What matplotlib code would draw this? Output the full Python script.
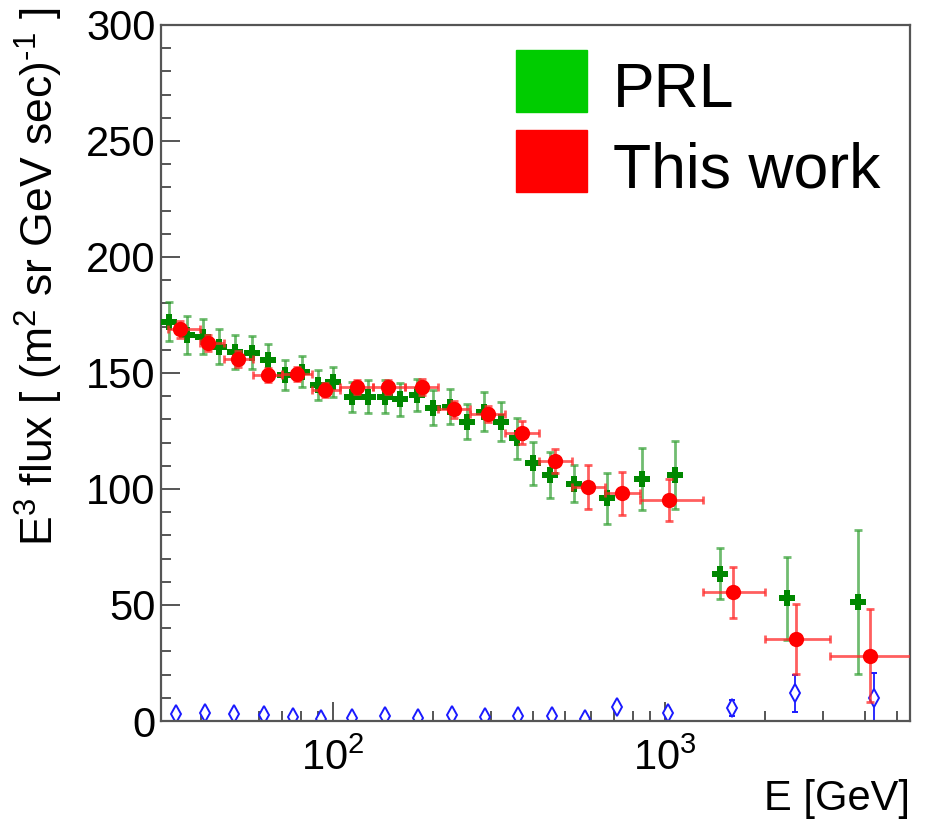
import numpy as np
import matplotlib.pyplot as plt
from matplotlib.patches import Rectangle
from matplotlib.ticker import LogLocator, NullFormatter, MultipleLocator

# PRL flux points (E^3 weighted)
prl_e = [32.0, 36.3, 40.5, 45.4, 50.7, 57.1, 63.8, 71.7, 80.5, 90.3, 100.0,
         113.8, 127.7, 143.4, 159.3, 179.5, 200.5, 225.0, 252.7, 283.9, 319.6,
         357.0, 401.0, 448.7, 532.0, 667.0, 851.0, 1072.0, 1466.0, 2335.0, 3818.0]
prl_flux = [172.1, 166.4, 165.6, 161.3, 159.2, 158.8, 155.6, 149.1, 150.6, 144.8, 146.3,
            139.8, 139.8, 139.8, 138.7, 140.5, 135.1, 135.5, 129.0, 133.3, 129.0,
            121.8, 111.0, 106.0, 102.2, 96.0, 104.2, 106.0, 63.4, 52.9, 51.4]
prl_err = [8.5, 8.0, 7.5, 7.5, 7.3, 7.2, 6.8, 6.3, 6.8, 6.3, 6.5,
           6.5, 7.0, 7.0, 7.2, 7.0, 7.5, 7.5, 7.5, 8.3, 8.3,
           9.0, 9.3, 10.0, 8.0, 11.0, 13.3, 14.7, 11.0, 17.8, 31.0]

# this work: bin centres, bin edges, flux and error
work_e = [34.6, 42.1, 51.6, 63.6, 77.8, 94.6, 117.9, 146.8, 184.9, 231.9,
          293.8, 369.6, 466.9, 588.0, 741.0, 1031.0, 1600.0, 2478.0, 4131.0]
work_e_lo = [31.7, 39.6, 46.8, 57.5, 70.0, 86.3, 105.0, 132.0, 165.0, 207.6,
             258.6, 329.0, 418.0, 524.0, 659.0, 841.0, 1300.0, 2000.0, 3140.0]
work_e_hi = [39.6, 46.8, 57.5, 70.0, 86.3, 105.0, 132.0, 165.0, 207.6, 258.6,
             329.0, 418.0, 524.0, 659.0, 841.0, 1300.0, 2000.0, 3140.0, 6300.0]
work_flux = [168.8, 162.8, 155.9, 149.1, 149.6, 142.7, 143.8, 143.8, 144.1, 134.3,
             132.2, 124.3, 112.1, 100.7, 98.1, 95.3, 55.5, 35.3, 28.1]
work_err = [3.5, 3.5, 3.5, 3.0, 3.0, 3.0, 3.0, 3.0, 3.5, 3.5,
            3.5, 5.0, 5.0, 9.5, 9.4, 9.0, 11.0, 15.0, 20.0]

# difference points near zero
diff_e = [33.7, 41.1, 50.3, 61.7, 75.7, 91.8, 113.8, 143.4, 180.6, 228.0,
          287.0, 361.0, 456.0, 574.0, 718.0, 1024.0, 1589.0, 2466.0, 4268.0]
diff_flux = [3.0, 3.6, 3.0, 2.6, 1.6, 0.7, 1.1, 2.2, 1.1, 2.6,
             1.9, 2.2, 2.2, 0.7, 5.9, 3.6, 5.5, 11.9, 9.8]
diff_err = [1.0, 1.0, 1.0, 1.0, 1.0, 1.0, 1.0, 1.0, 1.0, 1.0,
            1.0, 1.0, 1.0, 1.0, 1.5, 2.0, 3.5, 8.0, 11.0]

plt.rcParams['font.family'] = ['Liberation Sans', 'DejaVu Sans']
plt.rcParams['mathtext.default'] = 'regular'

fig = plt.figure(figsize=(9.27, 8.22), dpi=100)
W, H = 927.0, 822.0
ax = fig.add_axes([161 / W, 1 - 721 / H, (910 - 161) / W, (721 - 25) / H])

work_e = np.array(work_e)
xerr = [work_e - np.array(work_e_lo), np.array(work_e_hi) - work_e]

ax.errorbar(diff_e, diff_flux, yerr=diff_err, fmt='d', color='#1a1aff', mfc='white',
            mec='#1a1aff', mew=1.4, ms=9, elinewidth=1.3, capsize=2.5, zorder=2)
ax.errorbar(prl_e, prl_flux, yerr=prl_err, fmt='none', ecolor='#33a033', alpha=0.7,
            elinewidth=2, capsize=3, capthick=2, zorder=3)
ax.plot(prl_e, prl_flux, 'P', color='#008800', ms=11, mew=0, zorder=4)
ax.errorbar(work_e, work_flux, xerr=xerr, yerr=work_err, fmt='none', ecolor='#ff2a2a',
            alpha=0.75, elinewidth=2, capsize=3, capthick=2, zorder=5)
ax.plot(work_e, work_flux, 'o', color='#ff0000', ms=11, mew=0, zorder=6)

ax.set_xscale('log')
ax.set_xlim(30.3, 5470)
ax.set_ylim(0, 300)
ax.xaxis.set_major_locator(LogLocator(base=10))
ax.xaxis.set_minor_locator(LogLocator(base=10, subs=np.arange(2, 10)))
ax.xaxis.set_minor_formatter(NullFormatter())
ax.yaxis.set_major_locator(MultipleLocator(50))
ax.yaxis.set_minor_locator(MultipleLocator(10))

for s in ax.spines.values():
    s.set_color('#555555')
    s.set_linewidth(1.6)
ax.tick_params(which='both', direction='in', top=False, right=False,
               colors='#555555', labelcolor='black', width=1.4, labelsize=30)
ax.tick_params(which='major', length=14)
ax.tick_params(which='minor', length=7)
ax.tick_params(axis='y', pad=4)
ax.tick_params(axis='x', pad=13)

ax.set_xlabel('E [GeV]', fontsize=30, loc='right')
ax.xaxis.set_label_coords(1.0, -0.083)
ax.set_ylabel('E$^{3}$ flux [ (m$^{2}$ sr GeV sec)$^{\u20101}$ ]', fontsize=32, loc='top')
ax.yaxis.set_label_coords(-0.128, 1.025)

# legend boxes
for (y0, y1), col, txt in [((50, 112), '#00cc00', 'PRL'), ((130, 192), '#ff0000', 'This work')]:
    fig.add_artist(Rectangle((516 / W, 1 - y1 / H), 71 / W, (y1 - y0) / H,
                             transform=fig.transFigure, color=col))
    fig.text(613 / W, 1 - (y1 - 5) / H, txt, fontsize=45, va='baseline')

fig.savefig('out.png', dpi=100)
